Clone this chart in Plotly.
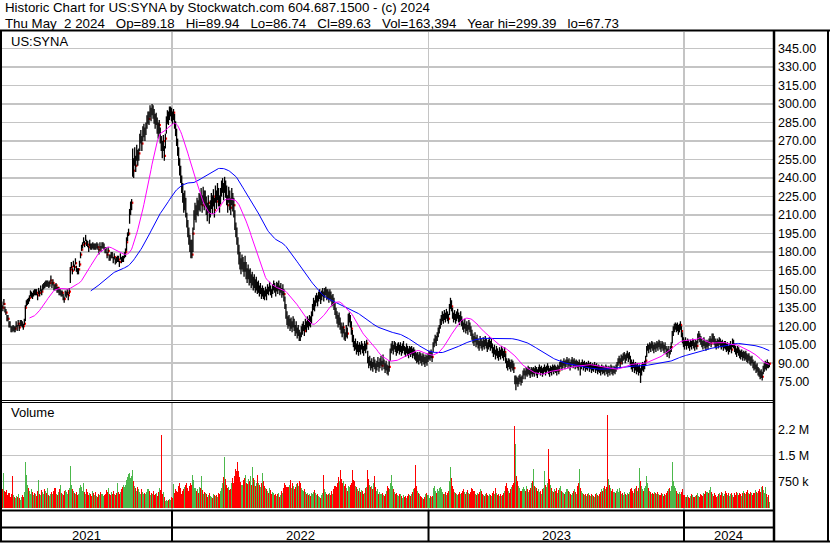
import plotly.graph_objects as go
import pandas as pd

W, H = 830, 543

# ---------------- data ----------------
# daily closes, one per trading day, May 3 2021 .. May 2 2024
close = [
    137, 135, 138, 134, 131, 128, 126, 122, 120, 118,
    117, 119, 116, 118, 121, 120, 122, 119, 121, 123,
    121, 120, 122, 135, 138, 141, 140, 143, 145, 146,
    144, 147, 146, 148, 147, 145, 148, 147, 149, 148,
    151, 153, 152, 155, 154, 156, 153, 155, 157, 154,
    155, 152, 150, 153, 149, 151, 147, 148, 145, 147,
    143, 142, 145, 146, 147, 145, 148, 166, 168, 165,
    170, 168, 171, 167, 164, 166, 170, 178, 182, 186,
    189, 187, 190, 188, 186, 184, 187, 185, 183, 186,
    184, 185, 183, 186, 184, 182, 185, 183, 184, 186,
    184, 182, 180, 178, 181, 177, 175, 178, 176, 174,
    176, 173, 172, 175, 174, 172, 176, 174, 173, 175,
    177, 180, 188, 193, 195, 212, 217, 220, 252, 246,
    258, 250, 262, 255, 260, 270, 274, 268, 276, 279,
    275, 281, 285, 290, 288, 295, 292, 298, 294, 290,
    286, 288, 282, 278, 283, 274, 268, 262, 270, 258,
    272, 284, 290, 288, 294, 296, 292, 289, 293, 286,
    278, 272, 262, 255, 248, 240, 234, 226, 218, 222,
    212, 205, 198, 192, 186, 183, 178, 195, 208, 214,
    210, 218, 215, 222, 220, 226, 218, 228, 222, 224,
    216, 212, 220, 208, 215, 222, 218, 225, 214, 228,
    221, 230, 224, 218, 226, 232, 235, 228, 236, 232,
    224, 218, 228, 222, 216, 226, 220, 218, 204, 198,
    192, 184, 178, 172, 168, 174, 170, 166, 172, 164,
    160, 166, 158, 162, 156, 160, 154, 158, 152, 155,
    150, 153, 148, 151, 146, 149, 147, 145, 148, 146,
    150, 148, 152, 149, 146, 150, 153, 151, 148, 152,
    150, 153, 149, 151, 147, 150, 146, 138, 132, 126,
    122, 125, 120, 123, 119, 124, 121, 116, 119, 114,
    117, 112, 111, 115, 118, 120, 116, 122, 119, 124,
    121, 125, 123, 128, 133, 138, 136, 141, 143, 140,
    144, 146, 142, 145, 148, 144, 147, 149, 145, 146,
    143, 147, 144, 140, 142, 138, 134, 130, 127, 124,
    126, 122, 118, 115, 119, 113, 111, 116, 114, 125,
    128, 124, 118, 112, 108, 104, 106, 101, 104, 100,
    103, 101, 105, 102, 100, 104, 102, 106, 94, 90,
    92, 88, 90, 87, 91, 89, 86, 88, 91, 87,
    90, 92, 88, 93, 89, 86, 88, 85, 84, 87,
    98, 102, 104, 101, 105, 103, 100, 102, 104, 101,
    103, 100, 102, 104, 101, 99, 102, 100, 98, 101,
    99, 101, 98, 100, 97, 96, 94, 95, 93, 96,
    94, 92, 95, 93, 91, 94, 92, 95, 97, 96,
    98, 95, 104, 107, 110, 108, 112, 115, 118, 122,
    125, 128, 126, 129, 127, 130, 128, 126, 134, 140,
    136, 130, 127, 129, 126, 128, 130, 127, 125, 128,
    124, 121, 119, 122, 118, 120, 117, 121, 119, 116,
    113, 110, 108, 111, 107, 109, 106, 104, 108, 106,
    104, 107, 105, 108, 106, 103, 105, 107, 104, 106,
    102, 99, 101, 97, 100, 98, 96, 99, 97, 100,
    98, 96, 99, 94, 90, 88, 91, 89, 87, 90,
    88, 86, 76, 77, 75, 74, 76, 78, 75, 77,
    81, 83, 80, 84, 82, 85, 83, 81, 84, 82,
    84, 82, 85, 83, 81, 84, 86, 83, 85, 82,
    84, 86, 83, 85, 87, 84, 82, 85, 83, 86,
    84, 86, 85, 83, 86, 84, 88, 90, 87, 89,
    91, 88, 90, 92, 89, 91, 87, 90, 92, 89,
    91, 88, 90, 89, 87, 90, 86, 88, 90, 87,
    89, 86, 88, 87, 89, 86, 88, 85, 87, 86,
    88, 85, 87, 84, 86, 85, 83, 86, 84, 85,
    83, 86, 84, 82, 85, 83, 86, 84, 83, 85,
    84, 86, 88, 91, 93, 90, 94, 92, 95, 96,
    93, 95, 97, 94, 96, 92, 89, 87, 90, 86,
    88, 85, 87, 84, 86, 80, 86, 88, 87, 89,
    92, 100, 103, 101, 104, 102, 105, 103, 101, 104,
    102, 105, 103, 106, 104, 102, 105, 103, 101, 104,
    100, 98, 101, 97, 100, 103, 112, 116, 119, 121,
    118, 120, 117, 119, 121, 116, 110, 107, 105, 108,
    104, 107, 105, 103, 106, 104, 107, 105, 103, 106,
    104, 111, 113, 110, 108, 106, 104, 107, 105, 103,
    106, 104, 107, 109, 106, 111, 110, 108, 106, 104,
    107, 105, 108, 106, 104, 106, 103, 105, 104, 102,
    103, 100, 102, 104, 101, 107, 106, 102, 100, 98,
    101, 99, 97, 96, 98, 95, 97, 95, 96, 94,
    93, 95, 92, 91, 93, 89, 87, 88, 85, 86,
    83, 82, 80, 81, 79, 84, 86, 88, 87, 89,
    88, 89.63,
]

high = [
    140, 137, 142, 136, 134, 129, 129, 124, 124, 120,
    120, 121, 120, 120, 124, 121, 125, 121, 125, 125,
    124, 122, 126, 137, 141, 142, 143, 145, 149, 148,
    147, 149, 150, 150, 150, 146, 151, 149, 153, 150,
    154, 155, 156, 157, 157, 157, 156, 157, 161, 156,
    158, 154, 154, 155, 152, 152, 150, 150, 149, 149,
    146, 144, 149, 148, 150, 146, 151, 168, 172, 167,
    173, 170, 175, 169, 167, 167, 173, 180, 186, 188,
    192, 189, 194, 190, 189, 185, 190, 187, 187, 188,
    187, 187, 187, 188, 187, 183, 188, 185, 188, 188,
    187, 184, 184, 180, 184, 178, 178, 180, 180, 176,
    179, 175, 176, 177, 177, 173, 179, 176, 177, 177,
    180, 183, 192, 196, 199, 215, 221, 223, 264, 256,
    265, 258, 267, 263, 264, 276, 279, 274, 282, 284,
    281, 285, 291, 294, 294, 299, 297, 300, 299, 296,
    292, 293, 289, 285, 287, 281, 274, 270, 275, 266,
    276, 290, 295, 294, 298, 298, 297, 294, 296, 292,
    286, 280, 272, 265, 256, 250, 242, 236, 228, 230,
    224, 212, 206, 200, 194, 190, 190, 200, 214, 220,
    218, 224, 222, 228, 227, 232, 226, 233, 230, 230,
    225, 220, 226, 218, 222, 228, 226, 231, 224, 234,
    230, 236, 232, 226, 232, 238, 240, 236, 241, 238,
    234, 226, 233, 230, 224, 232, 228, 224, 214, 204,
    200, 192, 186, 180, 175, 178, 176, 172, 177, 172,
    167, 170, 166, 167, 162, 164, 160, 162, 158, 160,
    156, 157, 153, 155, 151, 153, 151, 149, 152, 150,
    154, 152, 156, 153, 150, 154, 157, 155, 152, 156,
    155, 157, 153, 155, 151, 154, 150, 144, 138, 132,
    128, 129, 126, 127, 124, 128, 126, 121, 124, 119,
    121, 117, 115, 120, 122, 124, 121, 126, 124, 128,
    126, 129, 128, 132, 138, 143, 141, 145, 147, 145,
    148, 150, 147, 149, 151, 148, 151, 152, 150, 150,
    148, 150, 148, 145, 146, 143, 139, 135, 132, 129,
    131, 127, 123, 120, 123, 118, 115, 121, 119, 130,
    131, 129, 124, 117, 113, 108, 110, 106, 108, 105,
    107, 105, 108, 106, 104, 108, 106, 109, 100, 95,
    96, 92, 94, 91, 95, 93, 90, 92, 95, 91,
    94, 96, 92, 97, 93, 90, 92, 89, 88, 92,
    102, 106, 108, 105, 108, 107, 104, 106, 107, 105,
    107, 104, 106, 108, 104, 103, 106, 104, 102, 104,
    103, 104, 102, 103, 101, 99, 98, 99, 97, 99,
    98, 96, 98, 97, 95, 97, 96, 98, 100, 99,
    101, 99, 107, 110, 113, 112, 115, 119, 121, 126,
    129, 132, 130, 133, 131, 134, 132, 130, 138, 143,
    141, 135, 131, 133, 130, 132, 134, 131, 129, 132,
    128, 125, 123, 126, 122, 124, 121, 125, 123, 120,
    117, 114, 112, 115, 111, 113, 110, 108, 112, 110,
    108, 111, 109, 112, 110, 107, 109, 111, 108, 110,
    106, 103, 105, 101, 104, 102, 100, 103, 101, 104,
    102, 100, 103, 98, 94, 92, 94, 93, 91, 93,
    92, 90, 80, 80, 79, 78, 80, 81, 79, 80,
    84, 86, 84, 87, 86, 88, 87, 85, 87, 86,
    87, 86, 88, 87, 85, 87, 89, 87, 88, 86,
    87, 89, 87, 88, 90, 88, 86, 88, 87, 89,
    88, 89, 88, 87, 89, 88, 91, 93, 91, 92,
    94, 92, 93, 95, 93, 94, 91, 93, 95, 93,
    94, 92, 93, 92, 91, 93, 90, 91, 93, 91,
    92, 90, 91, 90, 92, 90, 91, 89, 90, 89,
    91, 89, 90, 88, 89, 88, 87, 89, 88, 88,
    87, 89, 88, 86, 88, 87, 89, 88, 86, 88,
    87, 89, 91, 94, 96, 94, 97, 96, 98, 99,
    97, 98, 100, 98, 99, 96, 93, 91, 93, 90,
    91, 89, 90, 88, 89, 86, 89, 91, 90, 92,
    96, 104, 106, 105, 107, 106, 108, 107, 105, 107,
    106, 108, 107, 109, 108, 106, 108, 107, 105, 107,
    104, 102, 104, 101, 104, 107, 116, 120, 122, 123,
    122, 123, 121, 122, 124, 120, 115, 111, 109, 111,
    108, 110, 109, 107, 109, 108, 110, 109, 107, 109,
    108, 114, 116, 114, 112, 110, 108, 111, 109, 107,
    109, 108, 110, 112, 110, 114, 114, 112, 110, 108,
    110, 109, 111, 110, 108, 109, 107, 108, 108, 106,
    107, 104, 106, 108, 105, 110, 109, 106, 104, 102,
    104, 103, 101, 100, 101, 99, 100, 99, 100, 98,
    97, 98, 96, 95, 96, 93, 91, 92, 89, 90,
    87, 86, 84, 85, 83, 88, 90, 92, 91, 93,
    91, 89.94,
]

low = [
    135, 132, 137, 131, 129, 124, 124, 119, 119, 115,
    115, 116, 115, 115, 119, 116, 120, 116, 120, 120,
    119, 117, 121, 124, 136, 137, 138, 140, 144, 143,
    142, 144, 145, 145, 145, 141, 146, 144, 148, 145,
    149, 150, 151, 152, 152, 152, 151, 152, 156, 151,
    153, 149, 149, 150, 147, 147, 145, 145, 144, 144,
    141, 139, 144, 143, 145, 141, 146, 155, 167, 162,
    168, 165, 170, 164, 162, 162, 168, 175, 181, 183,
    187, 184, 189, 185, 184, 180, 185, 182, 182, 183,
    182, 182, 182, 183, 182, 178, 183, 180, 183, 183,
    182, 179, 179, 175, 179, 173, 173, 175, 175, 171,
    174, 170, 171, 172, 172, 168, 174, 171, 172, 172,
    175, 176, 181, 189, 193, 203, 210, 214, 241, 240,
    250, 245, 254, 250, 254, 262, 268, 262, 270, 273,
    270, 275, 280, 284, 283, 289, 286, 291, 288, 284,
    280, 283, 276, 272, 276, 268, 262, 256, 262, 254,
    264, 276, 284, 283, 287, 290, 286, 284, 287, 280,
    274, 266, 258, 250, 242, 236, 228, 220, 212, 214,
    208, 200, 192, 186, 180, 175, 175, 180, 198, 206,
    204, 210, 209, 214, 213, 218, 212, 220, 214, 217,
    210, 205, 212, 203, 208, 215, 211, 217, 208, 220,
    215, 222, 217, 212, 219, 225, 228, 222, 228, 224,
    218, 212, 220, 214, 210, 218, 213, 208, 198, 192,
    186, 178, 170, 166, 162, 166, 164, 160, 164, 158,
    155, 158, 153, 155, 151, 153, 149, 151, 147, 149,
    146, 147, 144, 146, 142, 144, 142, 141, 144, 141,
    146, 145, 148, 145, 143, 146, 149, 147, 144, 148,
    146, 149, 145, 147, 143, 145, 140, 134, 126, 121,
    118, 120, 116, 118, 115, 119, 116, 112, 114, 110,
    112, 108, 108, 111, 113, 116, 112, 117, 115, 119,
    117, 120, 119, 122, 128, 133, 132, 136, 139, 136,
    140, 142, 138, 141, 144, 140, 143, 145, 141, 142,
    139, 142, 140, 136, 137, 133, 129, 126, 122, 119,
    121, 117, 114, 111, 114, 109, 108, 111, 110, 120,
    123, 119, 113, 107, 103, 100, 101, 97, 99, 96,
    99, 97, 101, 98, 96, 100, 98, 101, 90, 86,
    88, 84, 86, 83, 87, 85, 82, 84, 87, 83,
    86, 88, 84, 89, 85, 82, 84, 81, 80, 83,
    92, 98, 100, 97, 101, 99, 96, 98, 100, 97,
    99, 96, 98, 100, 97, 95, 98, 96, 94, 97,
    95, 97, 94, 96, 93, 92, 90, 91, 89, 92,
    90, 88, 91, 89, 87, 90, 88, 91, 93, 92,
    94, 91, 99, 103, 106, 104, 108, 111, 114, 118,
    121, 124, 122, 125, 123, 126, 124, 122, 129, 134,
    132, 126, 123, 125, 122, 124, 126, 123, 121, 124,
    120, 117, 115, 118, 114, 116, 113, 117, 115, 112,
    109, 106, 104, 107, 103, 105, 102, 100, 104, 102,
    100, 103, 101, 104, 102, 99, 101, 103, 100, 102,
    98, 95, 97, 93, 96, 94, 92, 95, 93, 96,
    94, 92, 95, 90, 86, 84, 87, 85, 83, 86,
    84, 82, 73, 68, 73, 71, 73, 75, 72, 74,
    77, 80, 77, 80, 79, 81, 80, 78, 81, 79,
    81, 79, 82, 80, 78, 81, 83, 80, 82, 79,
    81, 83, 80, 82, 84, 81, 79, 82, 80, 83,
    81, 83, 82, 80, 83, 81, 85, 87, 84, 86,
    88, 85, 87, 89, 86, 88, 84, 87, 89, 86,
    88, 85, 87, 86, 84, 87, 80, 85, 87, 84,
    86, 83, 85, 84, 86, 83, 85, 82, 84, 83,
    85, 82, 84, 81, 83, 82, 80, 83, 81, 82,
    80, 83, 81, 79, 82, 80, 83, 81, 80, 82,
    81, 83, 85, 88, 90, 87, 91, 89, 92, 93,
    90, 92, 94, 91, 93, 88, 85, 83, 86, 82,
    84, 81, 83, 80, 82, 74, 80, 84, 83, 85,
    88, 95, 100, 98, 101, 99, 102, 100, 98, 101,
    99, 102, 100, 103, 101, 99, 102, 100, 98, 101,
    97, 95, 98, 94, 97, 99, 106, 112, 115, 117,
    115, 116, 113, 115, 117, 111, 106, 103, 101, 104,
    101, 104, 102, 100, 103, 101, 104, 102, 100, 103,
    101, 106, 109, 107, 105, 103, 101, 104, 102, 100,
    103, 101, 104, 106, 103, 107, 107, 105, 103, 101,
    104, 102, 105, 103, 101, 103, 100, 102, 101, 99,
    100, 97, 99, 101, 98, 103, 102, 99, 97, 95,
    98, 96, 94, 93, 95, 92, 94, 92, 93, 91,
    90, 92, 89, 88, 90, 86, 84, 85, 82, 83,
    80, 79, 77, 78, 76, 81, 83, 85, 84, 86,
    86, 86.74,
]

# daily volume, thousands of shares
volume_k = [
    820, 520, 1000, 470, 440, 500, 360, 410, 310, 380,
    900, 350, 310, 280, 330, 300, 380, 260, 230, 310,
    350, 290, 450, 1300, 940, 650, 550, 480, 380, 520,
    440, 350, 410, 380, 330, 490, 780, 400, 350, 500,
    450, 380, 520, 480, 410, 570, 350, 330, 380, 440,
    400, 480, 560, 380, 350, 440, 520, 660, 410, 380,
    360, 480, 500, 440, 400, 510, 560, 1200, 650, 540,
    480, 420, 380, 450, 350, 400, 560, 650, 600, 480,
    720, 450, 380, 520, 440, 350, 410, 380, 330, 480,
    410, 360, 450, 340, 300, 390, 350, 440, 380, 330,
    350, 400, 500, 450, 560, 380, 350, 440, 400, 480,
    380, 350, 410, 700, 450, 380, 440, 520, 580, 650,
    580, 650, 780, 880, 960, 1000, 850, 900, 1070, 760,
    620, 560, 480, 600, 520, 460, 400, 520, 440, 380,
    430, 380, 460, 520, 470, 360, 420, 390, 480, 350,
    380, 420, 330, 460, 560, 500, 2080, 380, 450, 300,
    200, 230, 180, 210, 250, 220, 300, 280, 680, 420,
    520, 480, 450, 620, 700, 560, 380, 480, 520, 600,
    650, 720, 560, 480, 620, 700, 640, 950, 780, 560,
    480, 520, 420, 600, 560, 900, 500, 380, 450, 420,
    380, 300, 360, 420, 330, 300, 280, 400, 350, 320,
    360, 300, 420, 380, 480, 560, 700, 880, 1470, 820,
    640, 560, 600, 500, 520, 720, 860, 700, 920, 1100,
    1050, 1300, 1040, 880, 750, 640, 780, 860, 950, 720,
    680, 820, 760, 900, 640, 1180, 860, 780, 620, 700,
    950, 720, 640, 580, 700, 1000, 760, 620, 560, 520,
    480, 420, 560, 500, 380, 440, 420, 360, 400, 330,
    380, 420, 300, 360, 480, 420, 560, 720, 650, 600,
    580, 640, 800, 560, 700, 620, 540, 580, 680, 720,
    620, 760, 700, 560, 500, 480, 520, 460, 380, 420,
    360, 400, 340, 420, 380, 460, 500, 420, 360, 380,
    340, 300, 280, 360, 420, 950, 520, 440, 380, 360,
    380, 420, 360, 480, 400, 520, 620, 580, 700, 880,
    760, 1070, 820, 700, 760, 620, 680, 560, 480, 620,
    580, 640, 720, 1070, 800, 760, 620, 580, 520, 480,
    560, 440, 500, 480, 380, 420, 560, 600, 1070, 820,
    640, 580, 620, 520, 700, 920, 580, 480, 520, 380,
    440, 380, 420, 360, 320, 400, 480, 620, 560, 520,
    700, 950, 620, 540, 460, 380, 420, 360, 340, 400,
    380, 320, 280, 360, 300, 340, 280, 320, 400, 360,
    320, 380, 440, 520, 560, 1240, 620, 480, 420, 380,
    340, 300, 260, 240, 300, 380, 420, 360, 280, 320,
    300, 340, 560, 620, 480, 420, 520, 480, 560, 600,
    520, 460, 400, 380, 440, 360, 420, 480, 760, 1180,
    850, 620, 520, 460, 420, 380, 360, 400, 440, 380,
    420, 480, 520, 440, 380, 460, 500, 420, 380, 440,
    560, 520, 480, 400, 360, 420, 380, 460, 520, 480,
    400, 360, 340, 380, 420, 360, 320, 400, 360, 340,
    420, 480, 380, 560, 420, 360, 400, 340, 380, 320,
    360, 420, 480, 620, 720, 560, 480, 420, 520, 600,
    640, 700, 2360, 1840, 920, 760, 620, 560, 480, 520,
    600, 540, 480, 620, 520, 460, 500, 560, 700, 760,
    1120, 620, 580, 560, 480, 520, 440, 480, 400, 520,
    560, 1040, 640, 600, 720, 1700, 820, 640, 560, 480,
    440, 520, 480, 560, 420, 500, 560, 620, 480, 440,
    420, 380, 460, 520, 480, 440, 400, 360, 420, 480,
    520, 460, 400, 620, 700, 1120, 560, 480, 420, 380,
    360, 400, 340, 380, 420, 360, 320, 400, 360, 340,
    300, 380, 420, 360, 320, 400, 440, 520, 480, 560,
    620, 540, 600, 2680, 820, 640, 560, 480, 520, 440,
    420, 480, 520, 460, 560, 480, 400, 420, 360, 440,
    400, 360, 420, 380, 460, 520, 560, 480, 420, 520,
    560, 620, 480, 560, 1150, 760, 620, 520, 480, 560,
    620, 920, 720, 560, 480, 440, 400, 420, 380, 460,
    420, 380, 440, 400, 360, 420, 380, 340, 400, 360,
    420, 480, 520, 560, 480, 620, 1300, 760, 620, 560,
    480, 420, 380, 440, 400, 460, 520, 360, 360, 310,
    290, 360, 310, 260, 340, 380, 360, 310, 290, 340,
    360, 410, 340, 310, 380, 360, 340, 430, 380, 480,
    460, 410, 500, 600, 460, 380, 340, 410, 360, 310,
    340, 380, 430, 360, 460, 410, 340, 380, 480, 430,
    360, 410, 340, 380, 430, 360, 310, 410, 360, 460,
    410, 360, 430, 380, 340, 410, 480, 430, 380, 460,
    500, 430, 380, 460, 410, 360, 430, 500, 460, 410,
    480, 530, 460, 580, 620, 500, 430, 600, 380, 310,
    360, 163,
]

years = ["2021", "2022", "2023", "2024"]
year_start = [0, 167, 418, 668]          # first trading-day index of each year
price_ticks = [75, 90, 105, 120, 135, 150, 165, 180, 195, 210, 225, 240, 255,
               270, 285, 300, 315, 330, 345]
vol_ticks = [750000, 1500000, 2250000]
vol_tick_text = ["750 k", "1.5 M", "2.2 M"]
ma_fast, ma_slow = 28, 88

header1 = "Historic Chart for US:SYNA by Stockwatch.com 604.687.1500 - (c) 2024"
header2 = ["Thu May\u00a0 2 2024", "Op=89.18", "Hi=89.94", "Lo=86.74",
           "Cl=89.63", "Vol=163,394", "Year hi=299.39", "lo=67.73"]
symbol = "US:SYNA"

n = len(close)
assert len(high) == n and len(low) == n and len(volume_k) == n, (n, len(high), len(low), len(volume_k))

# ---------------- geometry helpers ----------------
def xp(px):
    return px / W

def yp(py):
    return 1 - py / H

FONT = "Arial, 'Liberation Sans', sans-serif"
idx = list(range(n))
bounds = [s - 0.5 for s in year_start[1:]]
scale = (684 - 172) / (bounds[2] - bounds[0])  # px per day
x_lo = bounds[0] - 172 / scale
x_hi = bounds[0] + (773 - 172) / scale

pscale = (381.7 - 48.5) / (345 - 75)
p_top = 345 + (48.5 - 32) / pscale
p_bot = 75 - (400 - 381.7) / pscale

vscale = 750000 / 26.0
v_top = (507.5 - 403) * vscale
v_bot = -(509.5 - 507.5) * vscale

fig = go.Figure()

# close ticks (red) are only visible where the next day's bar does not cover them
rx, ry = [], []
for i in idx:
    if i == n - 1 or close[i] > high[i + 1] or close[i] < low[i + 1]:
        rx.append(i + 0.6)
        ry.append(close[i])
fig.add_trace(go.Scatter(
    x=rx, y=ry, mode="markers",
    marker=dict(symbol="square", size=2.2, color="#ff0000", line=dict(width=0)),
    hoverinfo="skip", showlegend=False, xaxis="x", yaxis="y"))

# high-low bars
hx, hy = [], []
for i in idx:
    hx += [i, i, None]
    hy += [low[i], high[i], None]
fig.add_trace(go.Scatter(
    x=hx, y=hy, mode="lines", line=dict(color="#000000", width=1.3),
    hoverinfo="skip", showlegend=False, xaxis="x", yaxis="y"))

s = pd.Series(close, dtype=float)
ma1 = s.rolling(ma_fast).mean()
ma2 = s.rolling(ma_slow).mean()
fig.add_trace(go.Scatter(x=idx, y=ma2, mode="lines", line=dict(color="#0000ff", width=1),
                         hoverinfo="skip", showlegend=False, xaxis="x", yaxis="y"))
fig.add_trace(go.Scatter(x=idx, y=ma1, mode="lines", line=dict(color="#ff00ff", width=1),
                         hoverinfo="skip", showlegend=False, xaxis="x", yaxis="y"))

# volume bars coloured by the day's close change
vcolors = []
for i in idx:
    if i == 0 or close[i] > close[i - 1]:
        vcolors.append("#4cb84c")
    elif close[i] < close[i - 1]:
        vcolors.append("#ff0000")
    else:
        vcolors.append("#a8a8a8")
fig.add_trace(go.Bar(
    x=idx, y=[v * 1000 for v in volume_k], width=1.0,
    marker=dict(color=vcolors, line=dict(width=0)),
    hoverinfo="skip", showlegend=False, xaxis="x2", yaxis="y2"))

grid = "#c4c4c4"
axis_common = dict(showline=False, zeroline=False, ticks="", fixedrange=True)
fig.update_layout(
    width=W, height=H,
    margin=dict(l=0, r=0, t=0, b=0),
    paper_bgcolor="#ffffff", plot_bgcolor="#ffffff",
    bargap=0, showlegend=False,
    font=dict(family=FONT, size=12, color="#000000"),
    xaxis=dict(domain=[0, xp(773)], range=[x_lo, x_hi], tickvals=bounds,
               showticklabels=False, showgrid=True, gridcolor=grid, gridwidth=1.5,
               anchor="y", **axis_common),
    yaxis=dict(domain=[yp(400), yp(32)], range=[p_bot, p_top], side="right",
               tickvals=price_ticks, tickformat=".2f", showgrid=True,
               gridcolor=grid, gridwidth=1.5, ticklabelstandoff=4,
               tickfont=dict(family=FONT, size=12.5, color="#000000"),
               anchor="x", **axis_common),
    xaxis2=dict(domain=[0, xp(773)], range=[x_lo, x_hi], tickvals=bounds,
                showticklabels=False, showgrid=True, gridcolor=grid, gridwidth=1.5,
                anchor="y2", **axis_common),
    yaxis2=dict(domain=[yp(509.5), yp(403)], range=[v_bot, v_top], side="right",
                tickvals=vol_ticks, ticktext=vol_tick_text, showgrid=True,
                gridcolor=grid, gridwidth=1.5, ticklabelstandoff=4,
                tickfont=dict(family=FONT, size=12.5, color="#000000"),
                anchor="x2", **axis_common),
)

shapes = []
def pline(x0, y0, x1, y1, w=2, c="#000000"):
    shapes.append(dict(type="line", xref="paper", yref="paper",
                       x0=xp(x0), y0=yp(y0), x1=xp(x1), y1=yp(y1),
                       line=dict(color=c, width=w), layer="above"))

pline(0, 30.5, 830, 30.5, 2)        # under header
pline(1, 30, 1, 542, 2)             # left border
pline(774, 30, 774, 542, 2.5)       # axis border
pline(828, 30, 828, 542, 2)         # right border
pline(0, 400.5, 774, 400.5, 1)      # double separator
pline(0, 402.5, 774, 402.5, 1)
pline(0, 510.5, 774, 510.5, 2)
pline(0, 527.5, 774, 527.5, 2)
pline(0, 541.5, 830, 541.5, 2)
for b in bounds:
    shapes.append(dict(type="line", xref="x", yref="paper", x0=b, x1=b,
                       y0=yp(542), y1=yp(510), line=dict(color="#000000", width=2),
                       layer="above"))

ann = []
def text(px, py, t, size=13, xanchor="left", xref="paper"):
    ann.append(dict(x=(xp(px) if xref == "paper" else px), y=yp(py), xref=xref, yref="paper",
                    text=t, showarrow=False, xanchor=xanchor, yanchor="middle",
                    font=dict(family=FONT, size=size, color="#000000")))

sp = " \u00a0 "
text(3, 8, header1, size=13.3)
text(3, 23, sp.join(header2), size=13.3)
text(9, 41.5, symbol)
text(9, 413, "Volume")
edges = [x_lo] + bounds + [x_hi]
for k, yl in enumerate(years):
    text((edges[k] + edges[k + 1]) / 2, 535, yl, size=13, xanchor="center", xref="x")

fig.update_layout(shapes=shapes, annotations=ann)
fig.write_html("out.html", config={"displayModeBar": False, "staticPlot": True},
               post_script="document.body.style.margin='0px';")
